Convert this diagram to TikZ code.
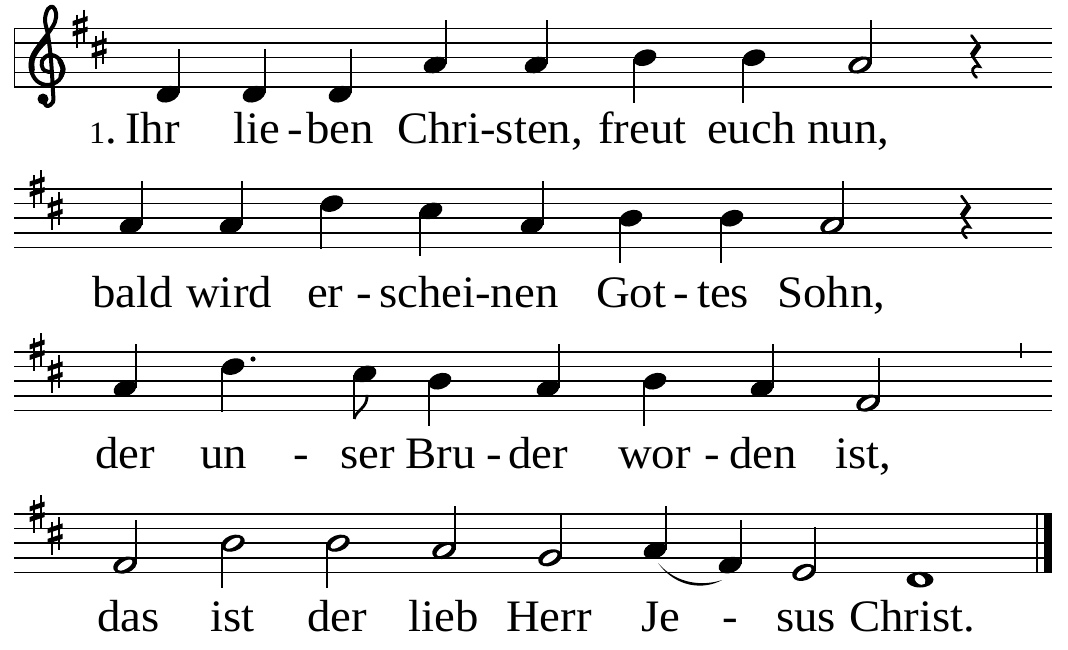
\documentclass[tikz,border=0pt]{standalone}
\usepackage{fontspec}
\setmainfont[FakeStretch=1.04]{Liberation Serif}
\tikzset{
  staffline/.style={line width=1.5pt},
  stemline/.style={line width=2pt},
  lyric/.style={anchor=base west, inner sep=0pt, font=\fontsize{45}{50}\selectfont},
}
\newcommand{\sety}[2]{\pgfmathsetmacro{\ny}{#1+(8-#2)*7.3}}
\newcommand{\qhead}[1]{\fill[rotate around={20:(#1,\ny)}] (#1,\ny) ellipse [x radius=11.8, y radius=7.8];}
\newcommand{\hhead}[1]{\fill[rotate around={20:(#1,\ny)}] (#1,\ny) ellipse [x radius=12.2, y radius=8];
  \fill[white, rotate around={32:(#1,\ny)}] (#1,\ny) ellipse [x radius=8.4, y radius=3.8];}
\newcommand{\qup}[3]{\sety{#2}{#3}\qhead{#1}\draw[stemline] (#1+10.8,\ny-1) -- (#1+10.8,\ny-45);}
\newcommand{\qdn}[3]{\sety{#2}{#3}\qhead{#1}\draw[stemline] (#1-10.8,\ny+1) -- (#1-10.8,\ny+45);}
\newcommand{\hup}[3]{\sety{#2}{#3}\hhead{#1}\draw[stemline] (#1+11.2,\ny-1) -- (#1+11.2,\ny-45);}
\newcommand{\hdn}[3]{\sety{#2}{#3}\hhead{#1}\draw[stemline] (#1-11.2,\ny+1) -- (#1-11.2,\ny+45);}
\newcommand{\edn}[3]{\qdn{#1}{#2}{#3}\draw[line width=2.8pt] (#1-10.8,\ny+45) .. controls (#1-9,\ny+36) and (#1+3,\ny+34) .. (#1+2,\ny+21);}
\newcommand{\wnote}[3]{\sety{#2}{#3}\fill (#1,\ny) ellipse [x radius=13.5, y radius=7.8];
  \fill[white, rotate around={-40:(#1,\ny)}] (#1,\ny) ellipse [x radius=6.2, y radius=4.2];}
\newcommand{\staff}[1]{\foreach \i in {0,...,4} \draw[staffline] (14,#1+\i*14.6) -- (1052,#1+\i*14.6);}
\newcommand{\sharpsign}[2]{%
  \draw[line width=2pt] (#1-3.5,#2-14) -- (#1-3.5,#2+19);
  \draw[line width=2pt] (#1+3.5,#2-19) -- (#1+3.5,#2+14);
  \fill (#1-7.5,#2-2.5) -- (#1+7.5,#2-7.5) -- (#1+7.5,#2-12.5) -- (#1-7.5,#2-7.5) -- cycle;
  \fill (#1-7.5,#2+8) -- (#1+7.5,#2+3) -- (#1+7.5,#2-2) -- (#1-7.5,#2+3) -- cycle;}
\newcommand{\keysig}[3]{\sharpsign{#1}{#3}\sharpsign{#2}{#3+21.9}}
\newcommand{\qrest}[2]{%
  \draw[line width=2.8pt, line cap=round] (#1-3.5,#2+7) -- (#1+4.5,#2+18);
  \draw[line width=5.5pt] (#1+4,#2+17) -- (#1-3,#2+27);
  \draw[line width=2.8pt, line cap=round] (#1-3,#2+27) -- (#1+4.5,#2+38) .. controls (#1-3,#2+36) and (#1-5,#2+43) .. (#1+1.5,#2+49);}
\begin{document}
\begin{tikzpicture}[x=1pt,y=-1pt]
\useasboundingbox (0,0) rectangle (1068,649);
\fill[white] (0,0) rectangle (1068,649);
% staves
\staff{28.5}
\staff{189}
\staff{352}
\staff{514}
\draw[line width=1.6pt] (14.5,28.5) -- (14.5,86.9);
% treble clef
\draw[line width=4pt, line cap=round, line join=round] plot[smooth, tension=0.6] coordinates {(43,100) (47,106) (53,102) (53,92) (51,60) (48,35) (45,20) (48,9) (53,7) (56,13) (55,22) (49,32) (40,44) (32,57) (31,70) (37,81) (48,85) (59,80) (63,69) (58,58) (49,55) (42,61) (43,69) (49,72)};
\draw[line width=5.6pt, line cap=round] plot[smooth, tension=0.6] coordinates {(46,40) (37,50) (32,60) (32,70)};
\draw[line width=5.2pt, line cap=round] plot[smooth, tension=0.6] coordinates {(61,76) (63,69) (60,61)};
\fill (43,99) circle (5.5);
% key signatures
\keysig{80}{99}{28.5}
\keysig{37}{55}{189}
\keysig{37}{55}{352}
\keysig{37}{55}{514}
% row 1
\qup{168}{28.5}{-1}
\qup{254}{28.5}{-1}
\qup{340}{28.5}{-1}
\qup{435}{28.5}{3}
\qup{536}{28.5}{3}
\qdn{645}{28.5}{4}
\qdn{754}{28.5}{4}
\hup{860}{28.5}{3}
\qrest{975}{28.5}
% row 2
\qup{131}{189}{3}
\qup{231}{189}{3}
\qdn{332}{189}{6}
\qdn{431}{189}{5}
\qup{532}{189}{3}
\qdn{631}{189}{4}
\qdn{732}{189}{4}
\hup{832}{189}{3}
\qrest{965}{189}
% row 3
\qup{125}{352}{3}
\qdn{233}{352}{6}
\fill (253,359) circle (2.6);
\edn{365}{352}{5}
\qdn{440}{352}{4}
\qup{548}{352}{3}
\qdn{655}{352}{4}
\qup{762}{352}{3}
\hup{868}{352}{1}
\draw[line width=2.2pt] (1021,343) -- (1021,358);
% row 4
\hup{125}{514}{1}
\hdn{233}{514}{4}
\hdn{338}{514}{4}
\hup{444}{514}{3}
\hup{550}{514}{2}
\qup{655}{514}{3}
\qup{730}{514}{1}
\hup{804}{514}{0}
\wnote{920}{514}{-1}
\fill (658,563) .. controls (676,588) and (704,590) .. (722,580) .. controls (704,586) and (677,585) .. cycle;
\draw[line width=1.6pt] (1037,514) -- (1037,572.4);
\fill (1044,514) rectangle (1052,572.4);
% lyrics row 1
\node[lyric] (a1) at (89,143) {{\fontsize{31}{36}\selectfont 1}.};
\node[lyric] (a2) at (125,143) {Ihr};
\node[lyric] (a3) at (233,143) {lie};
\node[lyric] (a4) at (287,143) {-};
\node[lyric] (a5) at (306,143) {ben};
\node[lyric] (a6) at (397,143) {Chri-sten,};
\node[lyric] (a7) at (598,143) {freut};
\node[lyric] (a8) at (707,143) {euch};
\node[lyric] (a9) at (807,143) {nun,};
% lyrics row 2
\node[lyric] (b1) at (92,307) {bald};
\node[lyric] (b2) at (186,307) {wird};
\node[lyric] (b3) at (307,307) {er};
\node[lyric] (b4) at (356,307) {-};
\node[lyric] (b5) at (379,307) {schei-nen};
\node[lyric] (b6) at (596,307) {Got};
\node[lyric] (b7) at (673,307) {-};
\node[lyric] (b8) at (697,307) {tes};
\node[lyric] (b9) at (777,307) {Sohn,};
% lyrics row 3
\node[lyric] (c1) at (95,468) {der};
\node[lyric] (c2) at (200,468) {un};
\node[lyric] (c3) at (293,468) {-};
\node[lyric] (c4) at (340,468) {ser};
\node[lyric] (c5) at (405,468) {Bru};
\node[lyric] (c6) at (486,468) {-};
\node[lyric] (c7) at (508,468) {der};
\node[lyric] (c8) at (618,468) {wor};
\node[lyric] (c9) at (704,468) {-};
\node[lyric] (c10) at (729,468) {den};
\node[lyric] (c11) at (835,468) {ist,};
% lyrics row 4
\node[lyric] (d1) at (97,631) {das};
\node[lyric] (d2) at (210,631) {ist};
\node[lyric] (d3) at (307,631) {der};
\node[lyric] (d4) at (408,631) {lieb};
\node[lyric] (d5) at (506,631) {Herr};
\node[lyric] (d6) at (641,631) {Je};
\node[lyric] (d7) at (722,631) {-};
\node[lyric] (d8) at (776,631) {sus};
\node[lyric] (d9) at (849,631) {Christ.};
\end{tikzpicture}
\end{document}
